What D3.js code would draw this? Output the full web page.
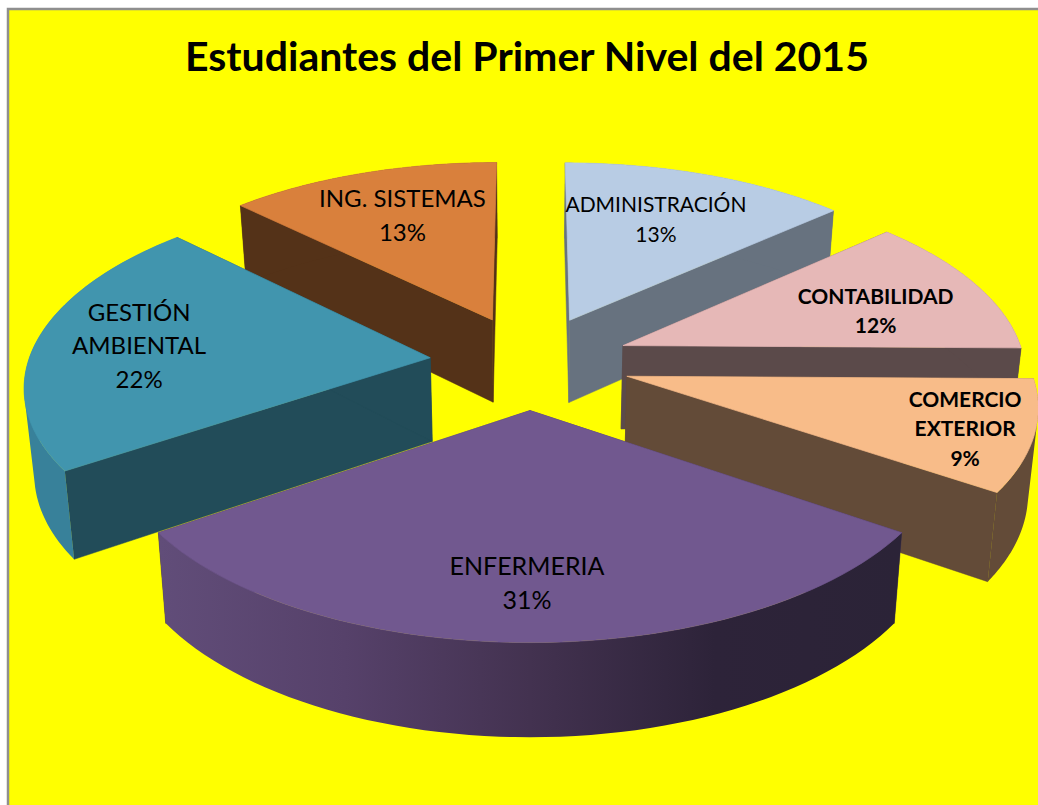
<!DOCTYPE html>
<html>
<head>
<meta charset="utf-8">
<script src="https://cdn.jsdelivr.net/npm/d3@7"></script>
<style>
  html, body { margin: 0; padding: 0; background: #fff; }
  svg { display: block; }
  text { font-family: Lato, "Open Sans", sans-serif; fill: #000; text-anchor: middle; }
</style>
</head>
<body>
<script>
// chart data, clockwise from the top. Labels only show whole percents,
// the decimals
var categories = ['ADMINISTRACIÓN', 'CONTABILIDAD', 'COMERCIO EXTERIOR', 'ENFERMERIA', 'GESTIÓN AMBIENTAL', 'ING. SISTEMAS']
var values = [13.3, 11.9, 9.3, 31.0, 21.9, 12.6]
var titleText = 'Estudiantes del Primer Nivel del 2015'

// colours per slice: top face, radial wall, outer rim
var topColors = ['#b8cce4', '#e6b8b7', '#f8bc89', '#71588f', '#4195ae', '#d9803c']
var wallColors = ['#67727f', '#5b4a4a', '#634b38', '#3f3150', '#224c59', '#543218']
var rimColors = ['#67727f', '#5b4a4a', '#634b38', 'url(#rimPurple)', '#38819a', '#543218']

// label placement: lines, size, weight, nudge from the projected centroid
var labelLines = [['ADMINISTRACIÓN'], ['CONTABILIDAD'], ['COMERCIO', 'EXTERIOR'], ['ENFERMERIA'], ['GESTIÓN', 'AMBIENTAL'], ['ING. SISTEMAS']]
var labelBold = [false, true, true, false, false, false]
var labelSize = [21, 21, 21, 25, 24, 24]
var labelGap = [30, 29, 29.5, 34, 33.5, 34]
var labelPos = [[0, -17], [38, -4], [98, -5], [-3, 33], [-54, -27], [-8, -21]]

var width = 1038, height = 805

// projection settings, fitted by eye
var cx = 530, cy = 362
var scaleX = 402, scaleY = 188
var persp = 0.13       // perspective on the depth axis
var depth = 84         // thickness of the pie
var depthPersp = 0.09  // thickness grows less than the plan does
var taper = 0.02       // base shrinks slightly towards the centre
var explode = 0.25     // slice offset in radius units

function project(X, Y, Z) {
    let w = 1 + persp * Y
    return [
        cx + scaleX * X / w * (1 - taper * Z),
        cy - scaleY * Y / w + depth * Z / (1 + depthPersp * Y)
    ]
}

var svg = d3.select('body').append('svg')
    .attr('width', width)
    .attr('height', height)

var grad = svg.append('defs').append('linearGradient')
    .attr('id', 'rimPurple')
    .attr('gradientUnits', 'userSpaceOnUse')
    .attr('x1', 160).attr('x2', 900).attr('y1', 0).attr('y2', 0)
grad.selectAll('stop')
    .data([[0, '#614d79'], [0.25, '#56416a'], [0.5, '#433250'], [0.75, '#2d2339'], [1, '#2b2337']])
    .enter().append('stop')
    .attr('offset', d => d[0])
    .attr('stop-color', d => d[1])

// background and frame
svg.append('rect')
    .attr('x', 8).attr('y', 9)
    .attr('width', width + 20).attr('height', height + 20)
    .attr('fill', '#ffff00')
    .attr('stroke', '#8f8f8f')
    .attr('stroke-width', 2.5)

svg.append('text')
    .attr('x', 527)
    .attr('y', 71)
    .attr('font-size', 41)
    .attr('font-weight', 'bold')
    .text(titleText)

var arcs = d3.pie().sort(null)(values)

var line = d3.line()

arcs.forEach(d => {
    let mid = (d.startAngle + d.endAngle) / 2
    d.ox = explode * Math.sin(mid)
    d.oy = explode * Math.cos(mid)
})

function rimPoint(d, a, r, Z) {
    return project(d.ox + r * Math.sin(a), d.oy + r * Math.cos(a), Z)
}

function arcPoints(d, Z) {
    let n = 60
    return d3.range(n + 1).map(i => {
        let a = d.startAngle + (d.endAngle - d.startAngle) * i / n
        return rimPoint(d, a, 1, Z)
    })
}

// back slices first, so the nearer ones cover them
var order = [5, 0, 1, 2, 4, 3]

order.forEach(i => {
    let d = arcs[i]
    let g = svg.append('g').attr('class', 'slice')
    let apexTop = project(d.ox, d.oy, 0)
    let apexBase = project(d.ox, d.oy, 1)
    let top = arcPoints(d, 0)
    let base = arcPoints(d, 1)

    // two flat cut walls
    ;[top[0], top[top.length - 1]].forEach((p, k) => {
        let q = k == 0 ? base[0] : base[base.length - 1]
        g.append('path')
            .attr('d', line([apexTop, p, q, apexBase]) + 'Z')
            .attr('fill', wallColors[i])
            .attr('stroke', wallColors[i])
            .attr('stroke-width', 0.5)
    })

    // outer rim: quads in one path so there are no seams, all wound the same
    // way so the ones that fold over at the silhouette don't cancel out
    let rimPath = d3.range(top.length - 1).map(k => {
        let quad = [top[k], top[k + 1], base[k + 1], base[k]]
        if (d3.polygonArea(quad) < 0) quad.reverse()
        return line(quad) + 'Z'
    }).join('')

    g.append('path')
        .attr('d', rimPath)
        .attr('fill', rimColors[i])
        .attr('fill-rule', 'nonzero')

    // top face
    g.append('path')
        .attr('d', line([apexTop].concat(top)) + 'Z')
        .attr('fill', topColors[i])
        .attr('stroke', topColors[i])
        .attr('stroke-width', 0.7)
})

// labels on top
arcs.forEach((d, i) => {
    let mid = (d.startAngle + d.endAngle) / 2
    let c = rimPoint(d, mid, 0.6, 0)
    let lines = labelLines[i].concat([Math.round(d.value) + '%'])
    let x = c[0] + labelPos[i][0]
    let y = c[1] + labelPos[i][1]
    lines.forEach((t, k) => {
        svg.append('text')
            .attr('x', x)
            .attr('y', y + k * labelGap[i])
            .attr('font-size', labelSize[i])
            .attr('font-weight', labelBold[i] ? 'bold' : 'normal')
            .text(t)
    })
})
</script>
</body>
</html>
